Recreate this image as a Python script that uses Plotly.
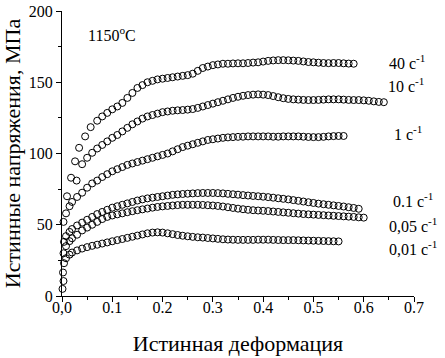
import plotly.graph_objects as go

# common strain grid (true strain) for the regularly sampled part of each curve
GRID = [0.02, 0.03, 0.04, 0.05, 0.06, 0.07, 0.08, 0.09, 0.10, 0.11, 0.12, 0.13,
        0.14, 0.15, 0.16, 0.17, 0.18, 0.19, 0.20, 0.21, 0.22, 0.23, 0.24, 0.25,
        0.26, 0.27, 0.28, 0.29, 0.30, 0.31, 0.32, 0.33, 0.34, 0.35, 0.36, 0.37,
        0.38, 0.39, 0.40, 0.41, 0.42, 0.43, 0.44, 0.45, 0.46, 0.47, 0.48, 0.49,
        0.50, 0.51, 0.52, 0.53, 0.54, 0.55, 0.56, 0.57, 0.58, 0.59, 0.60, 0.61,
        0.62, 0.63, 0.64]

# 40 s^-1
S40_HEAD_X = [0.010, 0.018, 0.026, 0.034, 0.046, 0.057]
S40_HEAD_Y = [70, 83, 94.5, 104, 112, 118.5]
S40_START = 0.07
S40_Y = [123, 126, 128.5, 131, 133, 135.5, 139, 142.5, 146, 148,
         150, 151, 152, 152.5, 153, 153.5, 154, 154.5, 155, 156,
         158, 160, 161, 162, 162.5, 163, 163, 163.2, 163.3, 163.3,
         163.5, 163.8, 164, 164.5, 165, 165.3, 165.5, 165.5, 165.4, 165.2,
         165, 164.6, 164.2, 164, 163.7, 163.5, 163.4, 163.5, 163.5, 163.3,
         163.1, 163]

# 10 s^-1
S10_HEAD_X = [0.029]
S10_HEAD_Y = [81]
S10_START = 0.04
S10_Y = [92.5, 97, 100.5, 103.5, 106, 108.5, 111, 113, 115.5, 118,
         120.5, 122.5, 124.5, 126, 127, 128, 129, 129.5, 130, 130.3,
         130.5, 130.8, 131.2, 132, 133, 134, 135, 136, 137, 138,
         139, 139.8, 140.5, 141, 141.3, 141.5, 141.3, 141, 140.3, 139.5,
         138.8, 138.3, 138, 137.8, 137.6, 137.5, 137.5, 137.6, 137.8, 138,
         138, 138, 137.8, 137.6, 137.5, 137.5, 137.3, 137, 136.6, 136.2,
         136]

# 1 s^-1
S1_HEAD_X = [0.003, 0.008, 0.015]
S1_HEAD_Y = [52, 58, 63]
S1_START = 0.02
S1_Y = [66, 69.5, 72.5, 76, 79, 81, 83.5, 85.5, 87.5, 89,
        90.5, 92, 93, 94, 95, 96, 97, 98, 99, 100,
        101.5, 103, 104.5, 105.5, 106.5, 107.5, 108.5, 109.5, 110, 110.5,
        111, 111.3, 111.5, 111.7, 111.8, 112, 112, 112, 112, 112,
        111.8, 111.8, 112, 112, 112, 112, 111.8, 111.6, 111.5, 111.5,
        111.7, 112, 112.2, 112.3, 112.3]

# 0.1 s^-1
S01_HEAD_X = [0.004, 0.008, 0.015]
S01_HEAD_Y = [38, 42, 45]
S01_START = 0.02
S01_Y = [47, 49.5, 51.5, 53.5, 55.5, 57.5, 59, 60.5, 62, 63,
         64, 65, 66, 67, 67.8, 68.5, 69, 69.5, 70, 70.5,
         71, 71.3, 71.6, 71.8, 72, 72.2, 72.3, 72.3, 72.3, 72.2,
         72, 71.7, 71.4, 71.1, 70.8, 70.5, 70.2, 70, 69.7, 69.4,
         69, 68.6, 68.2, 67.8, 67.3, 66.8, 66.3, 65.8, 65.3, 64.8,
         64.4, 64, 63.6, 63.2, 62.8, 62.3, 61.8, 61.2]

# 0.05 s^-1
S005_HEAD_X = [0.003, 0.008, 0.015]
S005_HEAD_Y = [30, 35, 38.5]
S005_START = 0.02
S005_Y = [40.5, 43, 46, 48, 50, 52, 54, 55.5, 56.5, 57.3,
          58, 58.8, 59.5, 60.2, 60.8, 61.4, 62, 62.5, 62.9, 63.2,
          63.5, 63.8, 64, 64, 64, 64, 63.9, 63.7, 63.5, 63.2,
          62.8, 62.3, 61.8, 61.3, 60.9, 60.5, 60.2, 60, 59.8, 59.6,
          59.3, 59, 58.7, 58.4, 58.1, 57.8, 57.5, 57.3, 57.1, 56.9,
          56.7, 56.5, 56.3, 56.1, 55.9, 55.7, 55.5, 55.2, 55]

# 0.01 s^-1
S001_HEAD_X = [0.001, 0.003, 0.002, 0.004, 0.008, 0.015]
S001_HEAD_Y = [5, 10.5, 16.5, 23, 26.5, 29]
S001_START = 0.02
S001_Y = [30.5, 32, 33.3, 34.3, 35.2, 36, 36.8, 37.6, 38.4, 39.2,
          40, 40.8, 41.6, 42.4, 43.2, 44, 44.5, 44.7, 44.5, 44,
          43.4, 42.8, 42.3, 41.9, 41.5, 41.2, 41, 40.7, 40.4, 40.1,
          39.8, 39.6, 39.5, 39.4, 39.4, 39.4, 39.4, 39.5, 39.5, 39.5,
          39.4, 39.3, 39.2, 39.2, 39.2, 39.1, 39, 38.9, 38.8, 38.7,
          38.6, 38.5, 38.4, 38.3]

SERIES = [
    (S40_HEAD_X, S40_HEAD_Y, S40_START, S40_Y),
    (S10_HEAD_X, S10_HEAD_Y, S10_START, S10_Y),
    (S1_HEAD_X, S1_HEAD_Y, S1_START, S1_Y),
    (S01_HEAD_X, S01_HEAD_Y, S01_START, S01_Y),
    (S005_HEAD_X, S005_HEAD_Y, S005_START, S005_Y),
    (S001_HEAD_X, S001_HEAD_Y, S001_START, S001_Y),
]

RATE_LABELS = ["40 с<sup>-1</sup>", "10 с<sup>-1</sup>", "1 с<sup>-1</sup>",
               "0.1 с<sup>-1</sup>", "0,05 с<sup>-1</sup>", "0,01 с<sup>-1</sup>"]
LABEL_X = [0.686, 0.684, 0.689, 0.698, 0.698, 0.698]
LABEL_Y = [164, 148, 114.5, 67.5, 50, 34]

X_TICKS = [0, 0.1, 0.2, 0.3, 0.4, 0.5, 0.6, 0.7]
X_TICKTEXT = ["0,0", "0.1", "0.2", "0.3", "0.4", "0.5", "0.6", "0.7"]
Y_TICKS = [0, 50, 100, 150, 200]

FONT = "Liberation Serif"

fig = go.Figure()
for hx, hy, start, body in SERIES:
    i0 = GRID.index(start)
    xs = hx + GRID[i0:i0 + len(body)]
    ys = hy + body
    fig.add_trace(go.Scatter(
        x=xs, y=ys, mode="markers",
        marker=dict(symbol="circle-open", size=7, color="black",
                    line=dict(width=1, color="black")),
        showlegend=False, hoverinfo="skip", cliponaxis=False))

for t, lx, ly in zip(RATE_LABELS, LABEL_X, LABEL_Y):
    fig.add_annotation(x=lx, y=ly, text=t, showarrow=False, xanchor="center",
                       yanchor="middle", font=dict(family=FONT, size=16, color="black"))

fig.add_annotation(x=0.1, y=184, text="1150<sup>o</sup>C", showarrow=False,
                   xanchor="center", yanchor="middle",
                   font=dict(family=FONT, size=16, color="black"))

fig.update_layout(
    width=445, height=358,
    margin=dict(l=62, r=31, t=11, b=62, autoexpand=False),
    paper_bgcolor="white", plot_bgcolor="white",
    font=dict(family=FONT, color="black"),
)
fig.update_xaxes(
    range=[0, 0.7], tickvals=X_TICKS, ticktext=X_TICKTEXT, automargin=False,
    showline=True, linecolor="black", linewidth=1, showgrid=False, zeroline=False,
    ticks="outside", ticklen=5, tickwidth=1, tickcolor="black",
    minor=dict(dtick=0.05, tick0=0, ticks="outside", ticklen=3, tickcolor="black", showgrid=False),
    tickfont=dict(family=FONT, size=16), ticklabelstandoff=-8,
    title=dict(text="Истинная деформация", font=dict(family=FONT, size=22), standoff=20),
)
fig.update_yaxes(
    range=[0, 200], tickvals=Y_TICKS, automargin=False,
    showline=True, linecolor="black", linewidth=1, showgrid=False, zeroline=False,
    ticks="outside", ticklen=5, tickwidth=1, tickcolor="black",
    minor=dict(dtick=25, tick0=0, ticks="outside", ticklen=3, tickcolor="black", showgrid=False),
    tickfont=dict(family=FONT, size=16),
    title=dict(text="Истинные напряжения, МПа", font=dict(family=FONT, size=22), standoff=16),
)

# remove the default page margin so the figure fills the window exactly
fig.write_html("out.html", config={"displayModeBar": False},
               post_script="document.body.style.margin='0px';")
